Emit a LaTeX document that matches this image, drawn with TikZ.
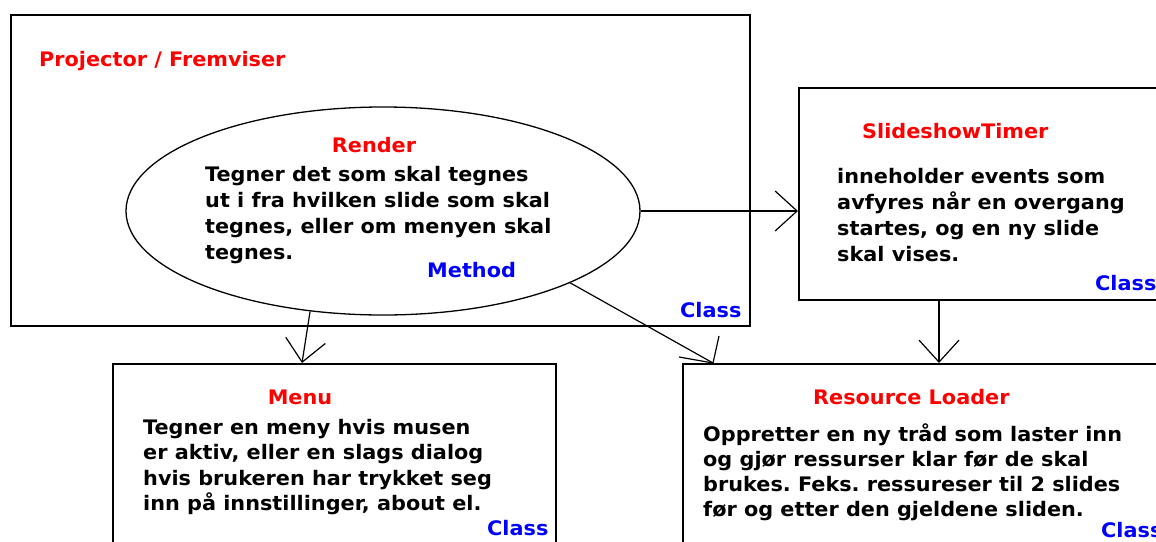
\documentclass[tikz,border=0pt]{standalone}
\usepackage{fontspec}
\setmainfont{DejaVu Sans}[FakeStretch=1.04]
\usetikzlibrary{shapes.geometric,arrows.meta,calc}
\definecolor{titlered}{RGB}{255,0,0}
\definecolor{kindblue}{RGB}{0,0,255}
\frenchspacing
\begin{document}
\begin{tikzpicture}[x=1pt,y=-1pt,
  box/.style={draw, line width=1.6pt, inner sep=0pt, anchor=north west},
  conn/.style={line width=1.2pt, -{Straight Barb[length=22pt,width=40pt,line width=1.2pt]}},
  plainconn/.style={line width=1.2pt},
  title/.style={text=titlered, font=\bfseries\fontsize{20}{26}\selectfont, anchor=base west, inner sep=0pt},
  kind/.style={text=kindblue, font=\bfseries\fontsize{20}{26}\selectfont, anchor=base west, inner sep=0pt},
  body/.style={font=\bfseries\fontsize{20}{#1}\selectfont, anchor=base west, inner sep=0pt}
]
\useasboundingbox (0,0) rectangle (1156,541);
\clip (0,0) rectangle (1156,541);

% class boxes
\node[box, minimum width=739pt, minimum height=311pt] (proj) at (10,14) {};
\node[box, minimum width=420pt, minimum height=212pt] (timer) at (798,87) {};
\node[box, minimum width=443pt, minimum height=240pt] (menu) at (112,363) {};
\node[box, minimum width=520pt, minimum height=240pt] (res) at (682,363) {};

% method ellipse
\node[draw, ellipse, line width=1.3pt, minimum width=514pt, minimum height=208pt, inner sep=0pt] (render) at (383,211) {};

% texts
\node[title] (projT) at (39,66) {Projector / Fremviser};
\node[title, anchor=base] (renderT) at (374,152) {Render};
\node[body=26pt] (renderB) at (205,181) {\begin{tabular}[t]{@{}l@{}}Tegner det som skal tegnes\\ut i fra hvilken slide som skal\\tegnes, eller om menyen skal\\tegnes.\end{tabular}};
\node[kind] (renderK) at (427,277) {Method};
\node[kind] (projK) at (680,317) {Class};

\node[title] (timerT) at (862,138) {SlideshowTimer};
\node[body=26pt] (timerB) at (837,183) {\begin{tabular}[t]{@{}l@{}}inneholder events som\\avfyres når en overgang\\startes, og en ny slide\\skal vises.\end{tabular}};
\node[kind] (timerK) at (1095,290) {Class};

\node[title, anchor=base] (menuT) at (300,404) {Menu};
\node[body=25.5pt] (menuB) at (143,434) {\begin{tabular}[t]{@{}l@{}}Tegner en meny hvis musen\\er aktiv, eller en slags dialog\\hvis brukeren har trykket seg\\inn på innstillinger, about el.\end{tabular}};
\node[kind] (menuK) at (487,535) {Class};

\node[title] (resT) at (813,404) {Resource Loader};
\node[body=25pt] (resB) at (703,441) {\begin{tabular}[t]{@{}l@{}}Oppretter en ny tråd som laster inn\\og gjør ressurser klar før de skal\\brukes. Feks. ressureser til 2 slides\\før og etter den gjeldene sliden.\end{tabular}};
\node[kind] (resK) at (1101,537) {Class};

% connectors
\draw[conn] (render.east) -- (render.east -| timer.west);
\draw[conn] (render.234) -- ($(menu.north west)+(190,0)$);
\coordinate (rtip) at ($(res.north west)+(31,0)$);
\draw[plainconn] (render.339) -- (rtip);
% barbs of the skewed head on the loader arrow
\draw[plainconn] (rtip) -- ++(6,-27);
\draw[plainconn] (rtip) -- ++(-34,-6);
\coordinate (tdrop) at ($(timer.south west)+(141,0)$);
\draw[conn] (tdrop) -- (tdrop |- res.north);
\end{tikzpicture}
\end{document}
